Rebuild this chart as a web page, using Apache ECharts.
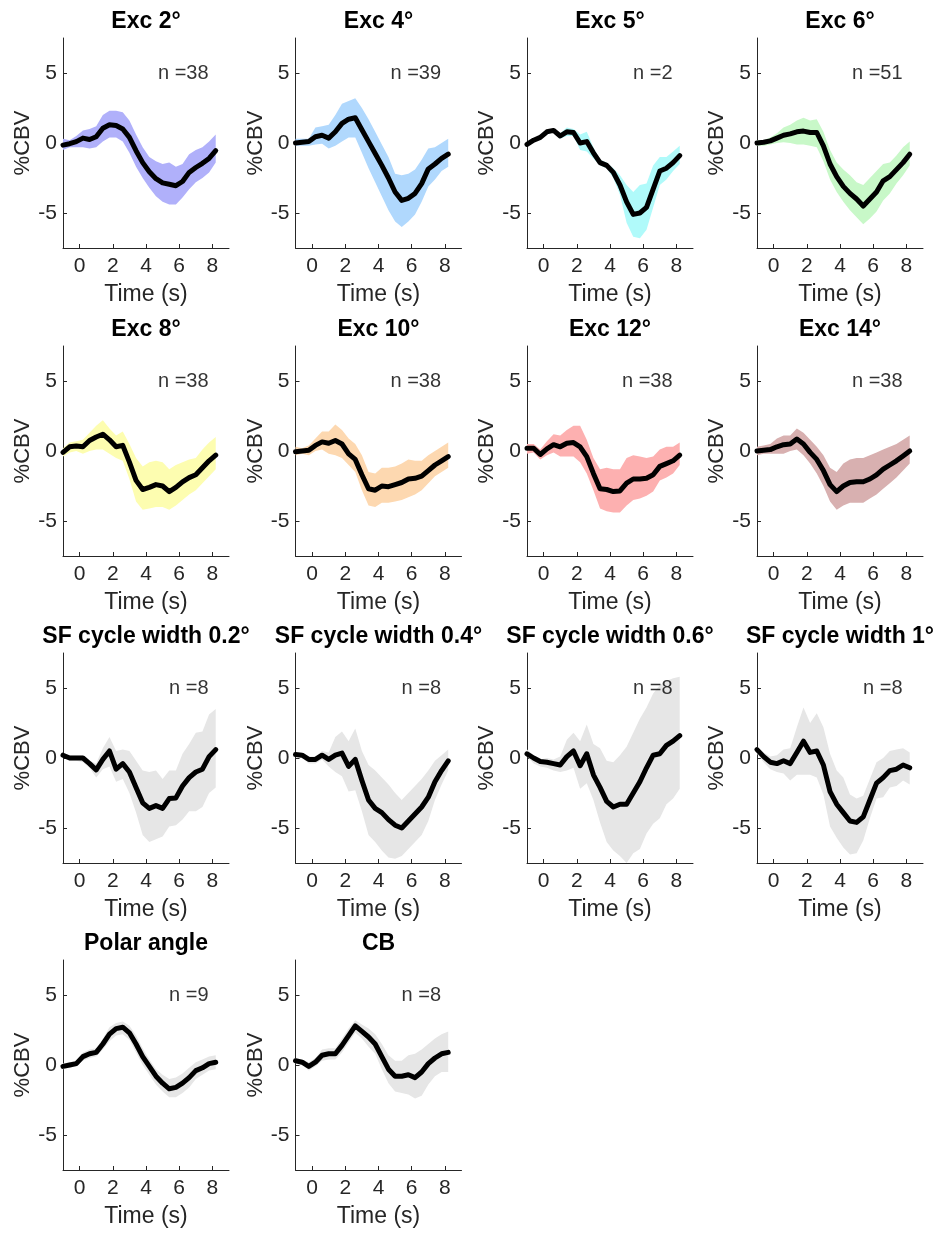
<!DOCTYPE html>
<html><head><meta charset="utf-8">
<script src="https://cdn.jsdelivr.net/npm/echarts@6/dist/echarts.min.js"></script>
<style>html,body{margin:0;padding:0;background:#fff}#c{width:940px;height:1234px}</style>
</head><body><div id="c"></div>
<script>
const times = [-1,-0.6,-0.2,0.2,0.6,1,1.4,1.8,2.2,2.6,3,3.4,3.8,4.2,4.6,5,5.4,5.8,6.2,6.6,7,7.4,7.8,8.2];
const xTicks = [0,2,4,6,8];
const yTicks = [-5,0,5];
const titles = ['Exc 2°','Exc 4°','Exc 5°','Exc 6°','Exc 8°','Exc 10°','Exc 12°','Exc 14°',
  'SF cycle width 0.2°','SF cycle width 0.4°','SF cycle width 0.6°','SF cycle width 1°','Polar angle','CB'];
const nCounts = [38,39,2,51,38,38,38,38,8,8,8,8,9,8];
const fills = ['#b0b0fa','#b0d8fd','#b0fafa','#c8f8c8','#fdfdb0','#fdd8b0','#fdb0b0','#d8b0b0',
  '#e6e6e6','#e6e6e6','#e6e6e6','#e6e6e6','#e6e6e6','#e6e6e6'];

const exc2Mean  = [-0.15,-0.05,0.1,0.35,0.25,0.45,1.05,1.3,1.25,1.0,0.4,-0.55,-1.4,-2.05,-2.55,-2.85,-2.95,-3.05,-2.75,-2.1,-1.75,-1.45,-1.1,-0.55];
const exc2Upper = [0.3,0.2,0.5,0.9,1.0,1.2,2.0,2.3,2.3,2.2,1.6,0.6,-0.3,-1.0,-1.3,-1.5,-1.4,-1.7,-1.5,-0.8,-0.5,-0.3,0.1,0.6];
const exc2Lower = [-0.5,-0.3,-0.3,-0.3,-0.4,-0.3,0.1,0.4,0.4,0.1,-0.7,-1.7,-2.5,-3.2,-3.8,-4.2,-4.4,-4.4,-3.9,-3.3,-2.8,-2.5,-2.1,-1.4];

const exc4Mean  = [0.0,0.05,0.1,0.45,0.55,0.35,0.8,1.4,1.7,1.8,0.95,0.1,-0.75,-1.6,-2.5,-3.5,-4.1,-3.95,-3.6,-2.9,-1.85,-1.5,-1.1,-0.8];
const exc4Upper = [0.3,0.3,0.3,1.1,1.2,1.3,2.0,2.8,3.0,3.2,2.5,1.7,0.8,-0.1,-1.0,-2.2,-2.3,-2.2,-1.9,-1.2,-0.4,-0.3,0.0,0.3];
const exc4Lower = [-0.2,-0.2,-0.2,-0.1,-0.05,-0.4,-0.2,0.1,0.4,0.4,-0.7,-1.8,-2.8,-3.8,-4.8,-5.6,-6.0,-5.6,-5.1,-4.2,-3.1,-2.6,-2.0,-1.7];

const exc5Mean  = [-0.1,0.2,0.4,0.8,0.9,0.5,0.8,0.75,0.0,0.1,-0.7,-1.4,-1.6,-2.1,-3.0,-4.2,-5.1,-5.0,-4.6,-3.3,-2.0,-1.8,-1.4,-0.9];
const exc5Upper = [0.0,0.3,0.5,0.9,1.0,0.7,1.1,1.0,0.6,0.8,-0.3,-1.2,-1.4,-1.8,-2.3,-3.0,-3.5,-3.0,-2.9,-1.6,-1.0,-1.0,-0.6,-0.2];
const exc5Lower = [-0.2,0.1,0.3,0.6,0.8,0.3,0.5,0.5,-0.5,-0.6,-1.1,-1.6,-1.8,-2.5,-3.7,-5.7,-6.7,-6.8,-6.2,-4.6,-3.0,-2.6,-2.0,-1.5];

const exc6Mean  = [0.0,0.05,0.15,0.35,0.55,0.65,0.8,0.85,0.75,0.75,-0.2,-1.5,-2.4,-3.1,-3.6,-4.0,-4.5,-4.0,-3.5,-2.7,-2.4,-1.9,-1.4,-0.8];
const exc6Upper = [0.2,0.2,0.4,0.7,1.1,1.3,1.6,1.8,1.6,1.7,0.8,-0.5,-1.4,-1.9,-2.3,-2.8,-3.0,-2.5,-2.0,-1.5,-1.4,-0.9,-0.3,0.1];
const exc6Lower = [-0.2,-0.2,-0.1,0.0,0.05,0.0,-0.1,-0.1,-0.2,-0.3,-1.3,-2.6,-3.5,-4.2,-4.8,-5.3,-5.8,-5.4,-4.9,-4.1,-3.6,-2.9,-2.3,-1.6];

const exc8Mean  = [-0.1,0.3,0.35,0.3,0.75,1.0,1.2,0.8,0.3,0.4,-0.8,-2.1,-2.75,-2.6,-2.4,-2.5,-2.9,-2.6,-2.2,-1.9,-1.7,-1.2,-0.7,-0.3];
const exc8Upper = [0.2,0.6,0.7,0.8,1.3,1.8,2.2,1.6,1.1,1.4,0.5,-0.5,-1.1,-0.8,-0.7,-0.8,-1.3,-1.0,-0.8,-0.6,-0.5,0.1,0.6,1.0];
const exc8Lower = [-0.4,-0.1,0.0,-0.2,0.0,0.1,0.1,-0.2,-0.5,-0.7,-2.0,-3.6,-4.2,-4.1,-4.0,-4.0,-4.2,-3.9,-3.5,-3.1,-2.8,-2.3,-1.8,-1.3];

const exc10Mean  = [-0.05,0.0,0.05,0.4,0.65,0.55,0.75,0.5,-0.2,-0.6,-1.7,-2.7,-2.8,-2.5,-2.55,-2.4,-2.25,-2.0,-1.95,-1.8,-1.4,-1.0,-0.7,-0.4];
const exc10Upper = [0.3,0.2,0.4,0.9,1.4,1.4,1.9,1.5,0.9,0.5,-0.3,-1.5,-1.6,-1.2,-1.2,-1.1,-0.9,-0.6,-0.7,-0.7,-0.3,0.0,0.3,0.6];
const exc10Lower = [-0.3,-0.2,-0.3,0.0,0.1,-0.2,-0.3,-0.5,-1.0,-1.5,-2.8,-3.9,-4.0,-3.7,-3.7,-3.6,-3.5,-3.3,-3.1,-2.8,-2.3,-1.8,-1.5,-1.2];

const exc12Mean  = [0.2,0.2,-0.25,0.15,0.45,0.3,0.55,0.6,0.3,-0.4,-1.6,-2.7,-2.75,-2.9,-2.85,-2.3,-2.0,-2.0,-1.95,-1.7,-1.1,-0.9,-0.7,-0.3];
const exc12Upper = [0.5,0.5,0.1,0.7,1.2,1.1,1.5,1.8,1.8,0.8,-0.5,-1.3,-1.2,-1.3,-1.3,-0.5,-0.3,-0.4,-0.5,-0.4,0.1,0.3,0.3,0.6];
const exc12Lower = [-0.2,-0.1,-0.6,-0.3,-0.1,-0.4,-0.4,-0.4,-0.8,-1.6,-2.8,-4.1,-4.3,-4.4,-4.4,-3.9,-3.5,-3.4,-3.2,-2.9,-2.1,-1.9,-1.6,-1.0];

const exc14Mean  = [0.0,0.05,0.1,0.3,0.45,0.5,0.85,0.5,-0.1,-0.6,-1.4,-2.4,-2.9,-2.5,-2.25,-2.2,-2.2,-2.0,-1.7,-1.3,-1.0,-0.7,-0.35,0.0];
const exc14Upper = [0.3,0.4,0.5,0.9,1.1,1.1,1.6,1.3,0.8,0.3,-0.3,-1.2,-1.5,-0.9,-0.6,-0.5,-0.5,-0.3,-0.1,0.1,0.3,0.5,0.8,1.1];
const exc14Lower = [-0.3,-0.2,-0.2,-0.2,-0.2,0.0,0.1,-0.3,-0.9,-1.6,-2.5,-3.6,-4.2,-3.9,-3.7,-3.7,-3.7,-3.4,-3.1,-2.7,-2.3,-1.9,-1.4,-0.9];

const sf02Mean  = [0.2,0.0,0.0,0.0,-0.4,-0.85,-0.1,0.5,-0.8,-0.4,-1.0,-2.1,-3.2,-3.6,-3.4,-3.6,-2.9,-2.85,-2.0,-1.4,-1.0,-0.8,0.1,0.6];
const sf02Upper = [0.3,0.2,0.2,0.2,-0.2,-0.4,0.7,1.5,0.5,0.6,0.5,-0.2,-0.9,-1.0,-0.9,-1.5,-0.9,-0.9,0.3,1.0,1.8,1.9,3.1,3.5];
const sf02Lower = [0.1,-0.2,-0.2,-0.3,-0.7,-1.4,-0.8,-0.6,-1.7,-1.5,-2.5,-3.9,-5.5,-6.0,-5.8,-5.6,-4.9,-4.8,-4.4,-3.8,-3.8,-3.5,-2.5,-2.1];

const sf04Mean  = [0.25,0.2,-0.1,-0.1,0.2,-0.1,0.2,0.35,-0.6,-0.1,-1.6,-3.0,-3.6,-3.9,-4.4,-4.8,-5.0,-4.5,-4.0,-3.5,-2.8,-1.7,-0.9,-0.2];
const sf04Upper = [0.4,0.3,0.1,0.1,0.5,0.4,1.5,1.9,1.2,2.1,0.5,-0.5,-0.9,-1.4,-1.9,-2.5,-3.0,-2.5,-2.0,-1.5,-0.9,-0.2,0.2,0.6];
const sf04Lower = [0.1,0.0,-0.4,-0.4,-0.1,-0.6,-1.0,-1.3,-2.4,-2.3,-3.8,-5.5,-6.0,-6.6,-7.1,-7.2,-7.0,-6.5,-6.0,-5.5,-4.5,-3.0,-1.9,-0.9];

const sf06Mean  = [0.3,0.0,-0.25,-0.3,-0.4,-0.5,0.1,0.5,-0.55,0.3,-1.2,-2.1,-3.1,-3.5,-3.3,-3.3,-2.5,-1.7,-0.7,0.2,0.3,0.9,1.2,1.6];
const sf06Upper = [0.6,0.2,-0.1,0.0,-0.1,0.1,1.3,1.8,1.2,2.4,1.0,0.7,-0.2,-0.3,0.2,0.8,1.8,2.8,3.6,4.6,5.2,5.5,5.7,5.8];
const sf06Lower = [0.1,-0.4,-0.6,-0.7,-0.9,-1.0,-0.9,-0.7,-2.2,-1.8,-3.0,-4.6,-6.0,-6.6,-7.0,-7.5,-6.8,-6.5,-5.4,-4.7,-4.3,-3.3,-2.9,-2.2];

const sf1Mean  = [0.6,0.1,-0.3,-0.4,-0.2,-0.4,0.4,1.2,0.4,0.5,-0.5,-2.4,-3.3,-3.9,-4.5,-4.6,-4.2,-3.0,-1.8,-1.4,-0.9,-0.8,-0.5,-0.7];
const sf1Upper = [0.8,0.4,0.1,0.2,0.6,0.7,2.2,3.6,2.5,3.2,2.2,0.3,-0.9,-1.4,-2.6,-2.9,-2.7,-1.5,-0.3,0.0,0.5,0.6,0.7,0.4];
const sf1Lower = [0.3,-0.3,-0.8,-1.0,-1.1,-1.6,-1.2,-1.2,-1.2,-1.4,-2.6,-4.9,-5.7,-6.4,-6.9,-6.8,-5.9,-4.3,-2.9,-2.8,-2.1,-2.0,-1.6,-1.9];

const polarMean  = [-0.1,0.0,0.1,0.6,0.8,0.9,1.5,2.2,2.6,2.7,2.3,1.5,0.6,-0.1,-0.8,-1.3,-1.7,-1.6,-1.3,-0.9,-0.4,-0.2,0.1,0.2];
const polarUpper = [0.1,0.2,0.3,0.9,1.1,1.2,1.9,2.7,3.0,3.1,2.8,2.1,1.2,0.4,-0.3,-0.7,-1.0,-0.9,-0.6,-0.2,0.2,0.4,0.6,0.7];
const polarLower = [-0.3,-0.2,-0.1,0.3,0.5,0.6,1.1,1.7,2.1,2.2,1.8,0.9,0.0,-0.7,-1.4,-1.9,-2.3,-2.3,-2.0,-1.6,-1.0,-0.7,-0.4,-0.3];

const cbMean  = [0.3,0.2,-0.1,0.2,0.7,0.8,0.8,1.4,2.1,2.8,2.4,2.0,1.5,0.6,-0.3,-0.8,-0.8,-0.7,-0.9,-0.5,0.1,0.5,0.8,0.9];
const cbUpper = [0.5,0.4,0.2,0.5,1.1,1.2,1.2,1.9,2.6,3.2,2.9,2.6,2.2,1.5,0.7,0.3,0.3,0.7,0.8,1.1,1.5,1.9,2.2,2.4];
const cbLower = [0.1,0.0,-0.4,-0.1,0.3,0.4,0.4,0.9,1.6,2.3,1.9,1.3,0.8,-0.3,-1.3,-1.9,-2.0,-2.1,-2.4,-2.2,-1.4,-0.8,-0.5,-0.5];

const means  = [exc2Mean,exc4Mean,exc5Mean,exc6Mean,exc8Mean,exc10Mean,exc12Mean,exc14Mean,sf02Mean,sf04Mean,sf06Mean,sf1Mean,polarMean,cbMean];
const uppers = [exc2Upper,exc4Upper,exc5Upper,exc6Upper,exc8Upper,exc10Upper,exc12Upper,exc14Upper,sf02Upper,sf04Upper,sf06Upper,sf1Upper,polarUpper,cbUpper];
const lowers = [exc2Lower,exc4Lower,exc5Lower,exc6Lower,exc8Lower,exc10Lower,exc12Lower,exc14Lower,sf02Lower,sf04Lower,sf06Lower,sf1Lower,polarLower,cbLower];

const FONT = "'Liberation Sans', Arial, Helvetica, sans-serif";
const AX = '#262626';
const colLefts = [63, 295.5, 527, 757];
const rowTops = [38, 346, 653, 960];
const GW = 166, GH = 210;

function bandRenderer(fill) {
  return function (params, api) {
    if (params.dataIndex !== 0) return null;
    const n = params.dataInsideLength;
    const top = [], bottom = [];
    for (let i = 0; i < n; i++) {
      top.push(api.coord([api.value(0, i), api.value(2, i)]));
      bottom.push(api.coord([api.value(0, i), api.value(1, i)]));
    }
    const pts = top.concat(bottom.reverse());
    return {type: 'polygon', shape: {points: pts}, style: {fill: fill, stroke: null}, silent: true};
  };
}

const grids = [], xAxes = [], yAxes = [], series = [], graphics = [];
titles.forEach((title, k) => {
  const col = k % 4, row = Math.floor(k / 4);
  const left = colLefts[col], top = rowTops[row];
  grids.push({left: left, top: top, width: GW, height: GH, containLabel: false});
  xAxes.push({
    type: 'value', gridIndex: k, min: -1, max: 9,
    axisLine: {show: true, onZero: false, lineStyle: {color: AX, width: 1}},
    axisTick: {show: true, inside: true, length: 4, customValues: xTicks, lineStyle: {color: AX}},
    axisLabel: {show: true, customValues: xTicks, fontSize: 21, fontFamily: FONT, color: AX, margin: 8},
    splitLine: {show: false},
    name: 'Time (s)', nameLocation: 'middle', nameGap: 35,
    nameTextStyle: {fontSize: 23, fontFamily: FONT, color: AX}
  });
  yAxes.push({
    type: 'value', gridIndex: k, min: -7.5, max: 7.5,
    axisLine: {show: true, onZero: false, lineStyle: {color: AX, width: 1}},
    axisTick: {show: true, inside: true, length: 4, customValues: yTicks, lineStyle: {color: AX}},
    axisLabel: {show: true, customValues: yTicks, fontSize: 21, fontFamily: FONT, color: AX, margin: 6},
    splitLine: {show: false},
    name: '%CBV', nameLocation: 'middle', nameGap: 29, nameRotate: 90,
    nameTextStyle: {fontSize: 22, fontFamily: FONT, color: AX}
  });
  const lo = lowers[k], up = uppers[k], mn = means[k];
  series.push({
    type: 'custom', xAxisIndex: k, yAxisIndex: k, z: 1, silent: true,
    data: times.map((t, i) => [t, lo[i], up[i]]),
    encode: {x: 0, y: [1, 2]},
    renderItem: bandRenderer(fills[k])
  });
  series.push({
    type: 'line', xAxisIndex: k, yAxisIndex: k,
    data: times.map((t, i) => [t, mn[i]]), symbol: 'none',
    lineStyle: {color: '#000', width: 5, join: 'round', cap: 'round'}, silent: true, z: 3
  });
  series.push({
    type: 'scatter', xAxisIndex: k, yAxisIndex: k, data: [[7.8, 5]], symbolSize: 1,
    itemStyle: {color: 'rgba(0,0,0,0)'}, silent: true, z: 4,
    label: {show: true, position: 'left', distance: 0, formatter: 'n =' + nCounts[k],
      fontSize: 20, fontFamily: FONT, color: '#000'}
  });
  graphics.push({
    type: 'text', x: left + GW / 2, y: top - 16,
    style: {text: title, fill: '#000', font: 'bold 23px ' + FONT, textAlign: 'center', textVerticalAlign: 'middle'}
  });
});

const chart = echarts.init(document.getElementById('c'), null, {renderer: 'canvas'});
chart.setOption({
  animation: false,
  backgroundColor: '#fff',
  grid: grids, xAxis: xAxes, yAxis: yAxes, series: series, graphic: graphics
});
</script>
</body></html>
